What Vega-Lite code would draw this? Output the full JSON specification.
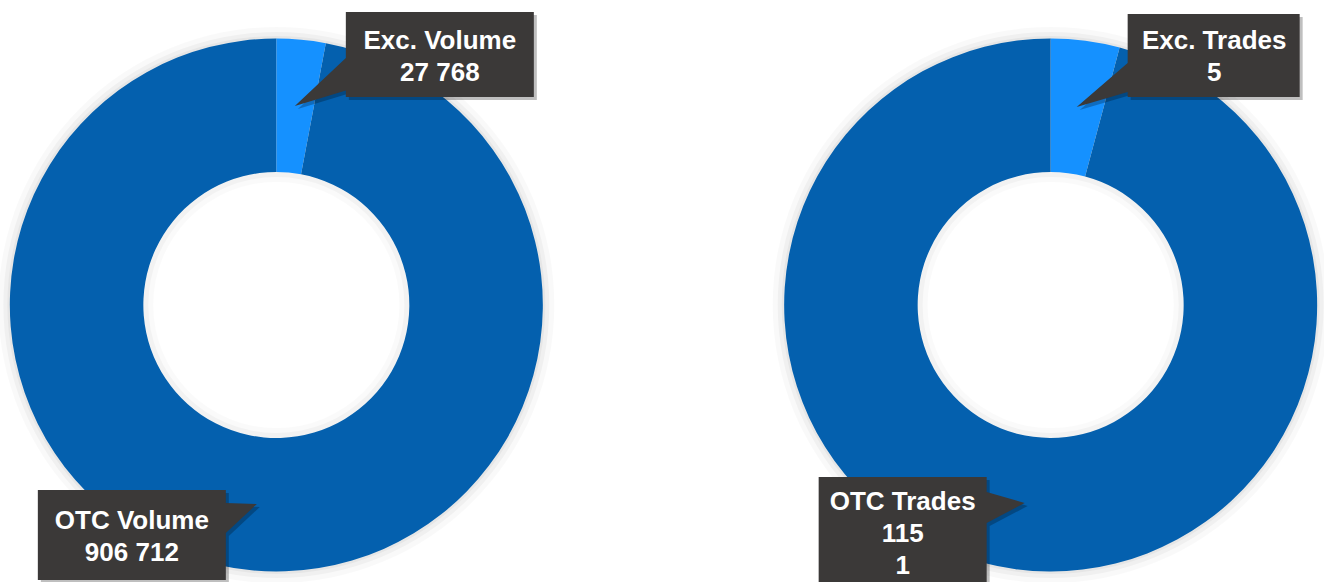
{
  "$schema": "https://vega.github.io/schema/vega-lite/v6.json",
  "width": 1321,
  "height": 554,
  "autosize": {"type": "none"},
  "padding": {"left": 3, "top": 28, "right": 0, "bottom": 0},
  "background": "white",
  "config": {"view": {"stroke": null}},
  "data": {
    "values": [
      {"chart": "Volume", "cat": "Exc", "order": 1, "value": 27768, "label": "Exc. Volume|27 768"},
      {"chart": "Volume", "cat": "OTC", "order": 2, "value": 906712, "label": "OTC Volume|906 712"},
      {"chart": "Trades", "cat": "Exc", "order": 1, "value": 5, "label": "Exc. Trades|5"},
      {"chart": "Trades", "cat": "OTC", "order": 2, "value": 115, "label": "OTC Trades|115|1"}
    ]
  },
  "transform": [
    {"stack": "value", "groupby": ["chart"], "sort": [{"field": "order", "order": "ascending"}], "offset": "normalize", "as": ["v0", "v1"]}
  ],
  "encoding": {
    "x": {"field": "chart", "type": "nominal", "axis": null, "scale": {"type": "point", "domain": ["Volume", "Trades"], "padding": 0.353}}
  },
  "layer": [
    {"transform": [{"filter": "datum.cat == 'OTC'"}], "mark": {"type": "arc", "theta": 6.2832, "innerRadius": 265, "outerRadius": 278, "color": "#000000", "opacity": 0.025}, "encoding": {}},
    {"transform": [{"filter": "datum.cat == 'OTC'"}], "mark": {"type": "arc", "theta": 6.2832, "innerRadius": 265, "outerRadius": 273, "color": "#000000", "opacity": 0.035}, "encoding": {}},
    {"transform": [{"filter": "datum.cat == 'OTC'"}], "mark": {"type": "arc", "theta": 6.2832, "innerRadius": 265, "outerRadius": 269, "color": "#000000", "opacity": 0.04}, "encoding": {}},
    {"transform": [{"filter": "datum.cat == 'OTC'"}], "mark": {"type": "arc", "theta": 6.2832, "innerRadius": 123, "outerRadius": 135, "color": "#000000", "opacity": 0.02}, "encoding": {}},
    {"transform": [{"filter": "datum.cat == 'OTC'"}], "mark": {"type": "arc", "theta": 6.2832, "innerRadius": 128, "outerRadius": 135, "color": "#000000", "opacity": 0.03}, "encoding": {}},
    {
      "mark": {"type": "arc", "innerRadius": 133, "outerRadius": 266.5},
      "encoding": {
        "theta": {"field": "v0", "type": "quantitative", "scale": {"domain": [0, 1]}, "stack": null},
        "theta2": {"field": "v1"},
        "color": {"field": "cat", "type": "nominal", "scale": {"domain": ["Exc", "OTC"], "range": ["#1591FF", "#0460AE"]}, "legend": null}
      }
    },
    {
      "mark": {"type": "point", "filled": true, "size": 40000, "opacity": 0.25, "color": "#000000", "strokeWidth": 0, "xOffset": 3, "yOffset": 3},
      "encoding": {
        "shape": {"field": "label", "type": "nominal", "legend": null, "scale": {
          "domain": ["Exc. Volume|27 768", "OTC Volume|906 712", "Exc. Trades|5", "OTC Trades|115|1"],
          "range": [
            "M0.695,-2.93L2.575,-2.93L2.575,-2.08L0.695,-2.08L0.695,-2.145L0.185,-1.99L0.695,-2.47Z",
            "M-2.385,1.85L-0.505,1.85L-0.505,1.98L-0.195,1.99L-0.505,2.28L-0.505,2.75L-2.385,2.75Z",
            "M0.77,-2.91L2.49,-2.91L2.49,-2.08L0.77,-2.08L0.77,-2.13L0.26,-1.98L0.77,-2.42Z",
            "M-2.32,1.72L-0.64,1.72L-0.64,1.87L-0.26,1.98L-0.64,2.18L-0.64,2.85L-2.32,2.85Z"
          ]}}
      }
    },
    {
      "mark": {"type": "point", "filled": true, "size": 40000, "opacity": 1, "color": "#3B3938", "strokeWidth": 0},
      "encoding": {
        "shape": {"field": "label", "type": "nominal", "legend": null, "scale": {
          "domain": ["Exc. Volume|27 768", "OTC Volume|906 712", "Exc. Trades|5", "OTC Trades|115|1"],
          "range": [
            "M0.695,-2.93L2.575,-2.93L2.575,-2.08L0.695,-2.08L0.695,-2.145L0.185,-1.99L0.695,-2.47Z",
            "M-2.385,1.85L-0.505,1.85L-0.505,1.98L-0.195,1.99L-0.505,2.28L-0.505,2.75L-2.385,2.75Z",
            "M0.77,-2.91L2.49,-2.91L2.49,-2.08L0.77,-2.08L0.77,-2.13L0.26,-1.98L0.77,-2.42Z",
            "M-2.32,1.72L-0.64,1.72L-0.64,1.87L-0.26,1.98L-0.64,2.18L-0.64,2.85L-2.32,2.85Z"
          ]}}
      }
    },
    {
      "transform": [{"filter": "datum.cat == 'Exc'"}],
      "mark": {"type": "text", "font": "Liberation Sans", "fontSize": 26, "fontWeight": "bold", "color": "#FFFFFF", "align": "center", "baseline": "middle", "lineBreak": "|", "lineHeight": 32, "xOffset": 163.5, "yOffset": -264},
      "encoding": {"text": {"field": "label", "type": "nominal"}}
    },
    {
      "transform": [{"filter": "datum.cat == 'OTC' && datum.chart == 'Volume'"}],
      "mark": {"type": "text", "font": "Liberation Sans", "fontSize": 26, "fontWeight": "bold", "color": "#FFFFFF", "align": "center", "baseline": "middle", "lineBreak": "|", "lineHeight": 32, "xOffset": -144.5, "yOffset": 216},
      "encoding": {"text": {"field": "label", "type": "nominal"}}
    },
    {
      "transform": [{"filter": "datum.cat == 'OTC' && datum.chart == 'Trades'"}],
      "mark": {"type": "text", "font": "Liberation Sans", "fontSize": 26, "fontWeight": "bold", "color": "#FFFFFF", "align": "center", "baseline": "middle", "lineBreak": "|", "lineHeight": 32, "xOffset": -148, "yOffset": 197},
      "encoding": {"text": {"field": "label", "type": "nominal"}}
    }
  ]
}
